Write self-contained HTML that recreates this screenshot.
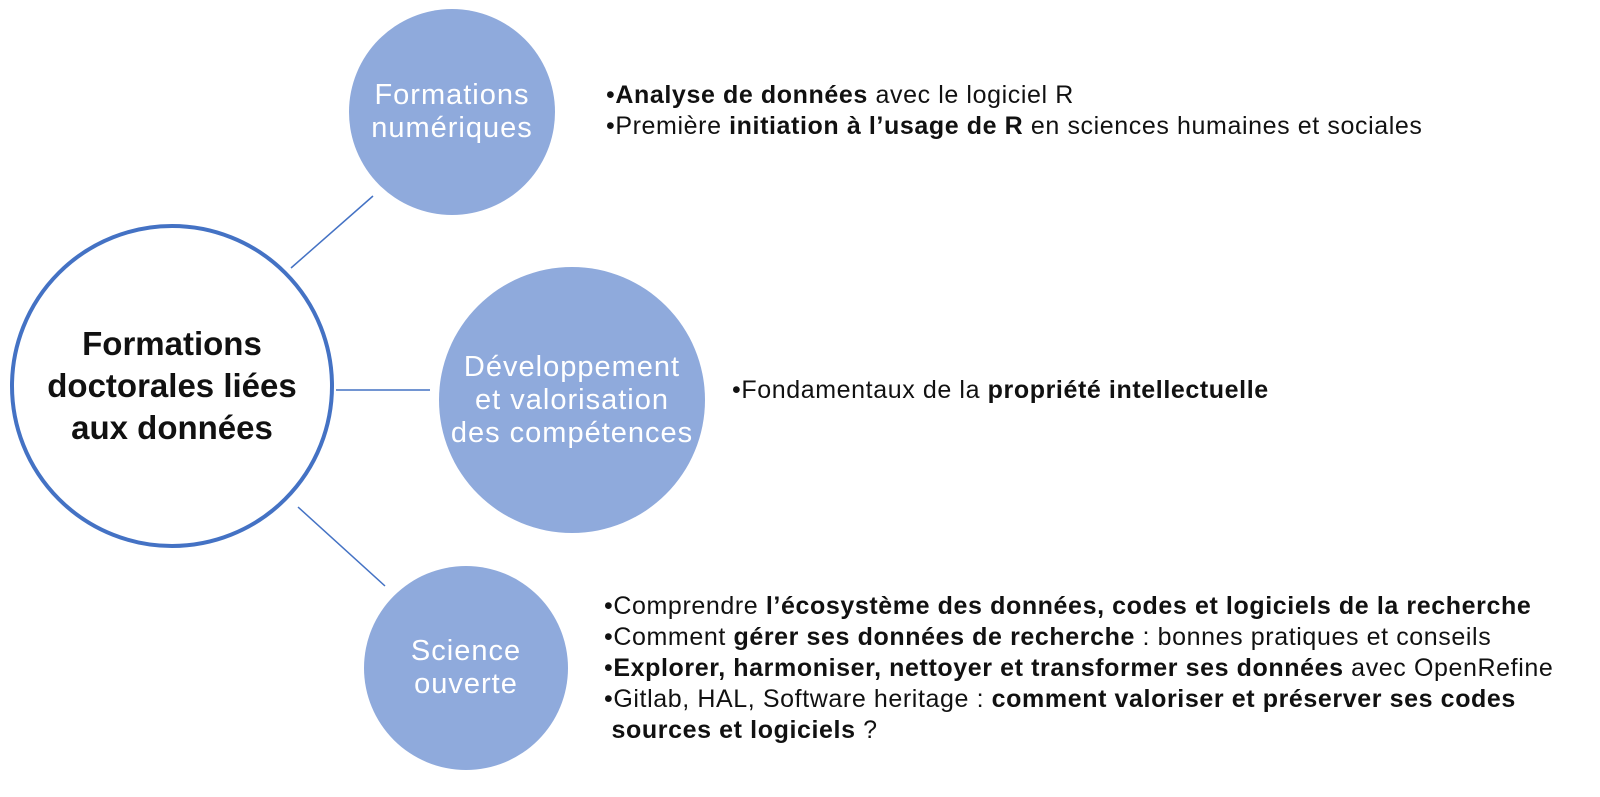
<!DOCTYPE html>
<html><head><meta charset="utf-8"><style>
body{margin:0;width:1600px;height:797px;background:#fff;position:relative;overflow:hidden;font-family:"Liberation Sans","DejaVu Sans",sans-serif;}
.c{position:absolute;border-radius:50%;background:#8FAADC;color:#fff;display:flex;align-items:center;justify-content:center;text-align:center;font-size:29px;letter-spacing:1px;line-height:33px;}
.t{position:absolute;font-size:25px;letter-spacing:0.6px;color:#111;line-height:31px;white-space:nowrap;}
b{font-weight:bold;}
</style></head><body>
<svg width="1600" height="797" style="position:absolute;left:0;top:0">
<line x1="291" y1="268" x2="373" y2="196" stroke="#4472C4" stroke-width="1.5"/>
<line x1="336" y1="390" x2="430" y2="390" stroke="#4472C4" stroke-width="1.5"/>
<line x1="298" y1="507" x2="385" y2="586" stroke="#4472C4" stroke-width="1.5"/>
<circle cx="172" cy="386" r="160" fill="#fff" stroke="#4472C4" stroke-width="4"/>
</svg>
<div style="position:absolute;left:12px;top:226px;width:320px;height:320px;display:flex;align-items:center;justify-content:center;text-align:center;font-size:33px;line-height:42px;font-weight:bold;color:#111">Formations<br>doctorales liées<br>aux données</div>
<div class="c" style="left:349px;top:9px;width:206px;height:206px">Formations<br>numériques</div>
<div class="c" style="left:439px;top:267px;width:266px;height:266px">Développement<br>et valorisation<br>des compétences</div>
<div class="c" style="left:364px;top:566px;width:204px;height:204px">Science<br>ouverte</div>
<div class="t" style="left:606px;top:80px">•<b>Analyse de données</b> avec le logiciel R<br>•Première <b>initiation à l’usage de R</b> en sciences humaines et sociales</div>
<div class="t" style="left:732px;top:375px">•Fondamentaux de la <b>propriété intellectuelle</b></div>
<div class="t" style="left:604px;top:591px">•Comprendre <b>l’écosystème des données, codes et logiciels de la recherche</b><br>•Comment <b>gérer ses données de recherche</b> : bonnes pratiques et conseils<br>•<b>Explorer, harmoniser, nettoyer et transformer ses données</b> avec OpenRefine<br>•Gitlab, HAL, Software heritage : <b>comment valoriser et préserver ses codes</b><br>&nbsp;<b>sources et logiciels</b> ?</div>
</body></html>
